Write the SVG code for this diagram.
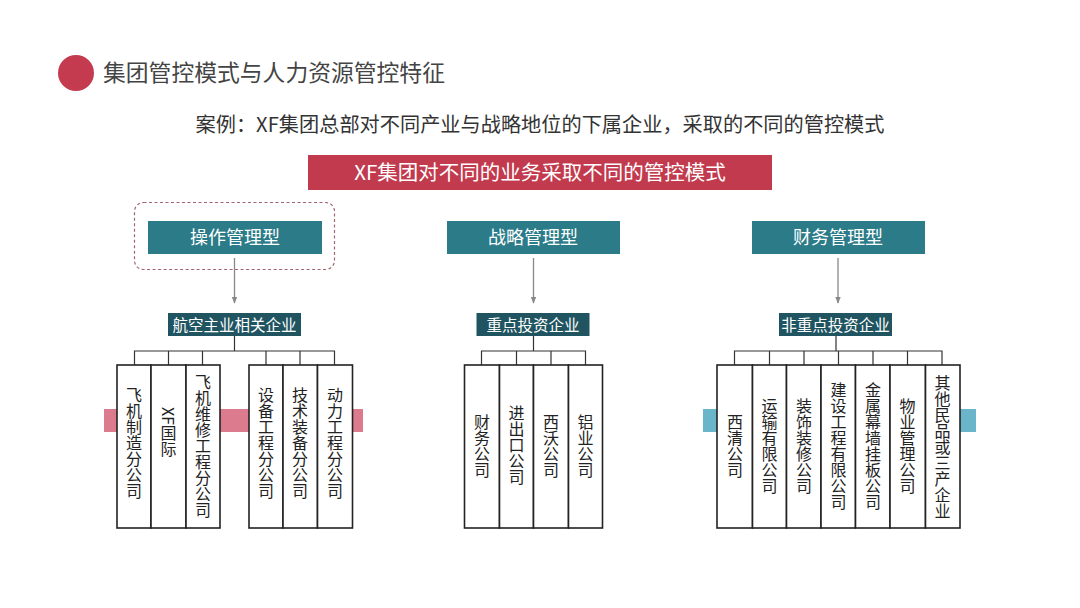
<svg xmlns="http://www.w3.org/2000/svg" width="1080" height="608" viewBox="0 0 1080 608">
<style>
text{font-family:"Noto Sans CJK SC","Noto Sans",sans-serif}
.teal{fill:#2b7b89}
.dark{fill:#1f5460}
.wt{fill:#fff;text-anchor:middle}
.col{fill:#fff;stroke:#222;stroke-width:1.6}
.br{fill:none;stroke:#333;stroke-width:1.2}
.vt{writing-mode:vertical-rl;text-anchor:middle;font-size:16px;fill:#222}
.arr{stroke:#888;stroke-width:1.3;fill:none;marker-end:url(#ah)}
</style>
<defs>
<marker id="ah" viewBox="0 0 10 10" refX="9" refY="5" markerWidth="7" markerHeight="7" orient="auto" markerUnits="userSpaceOnUse"><path d="M0,1 L10,5 L0,9 Z" fill="#888"/></marker>
</defs>
<rect width="1080" height="608" fill="#fff"/>
<g id="title">
<circle cx="76" cy="73" r="18" fill="#c43a4f"/>
<text x="103" y="81" font-size="22.8" fill="#444">集团管控模式与人力资源管控特征</text>
</g>
<g id="subtitle"><text x="540" y="132" font-size="20.2" fill="#333" text-anchor="middle">案例：XF集团总部对不同产业与战略地位的下属企业，采取的不同的管控模式</text></g>
<g id="banner">
<rect x="308" y="155" width="464" height="35" fill="#c23a4e"/>
<text x="540" y="180" font-size="20.5" class="wt">XF集团对不同的业务采取不同的管控模式</text>
</g>
<g id="type1">
<rect x="134.5" y="202.5" width="200" height="67" rx="9" fill="none" stroke="#a06670" stroke-width="1.2" stroke-dasharray="3,2.5"/>
<rect x="148" y="221" width="174" height="33" class="teal"/>
<text x="235" y="244" font-size="18" class="wt">操作管理型</text>
</g>
<g id="type2">
<rect x="447" y="221" width="173" height="33" class="teal"/>
<text x="533" y="244" font-size="18" class="wt">战略管理型</text>
</g>
<g id="type3">
<rect x="752" y="221" width="173" height="33" class="teal"/>
<text x="838" y="244" font-size="18" class="wt">财务管理型</text>
</g>
<g id="connectors">
<path class="arr" d="M234.5,258 V303"/>
<path class="arr" d="M533.5,258 V303"/>
<path class="arr" d="M838,258 V303"/>
<path class="br" d="M234.5,336 V351 M134.5,365 V351 H334.5 V365 M168.5,351 V365 M202.5,351 V365 M266,351 V365 M300,351 V365"/>
<path class="br" d="M533.5,336 V351 M481.5,365 V351 H585.5 V365 M516.5,351 V365 M551,351 V365"/>
<path class="br" d="M836,336 V351 M734.5,365 V351 H942 V365 M769.5,351 V365 M804,351 V365 M838.5,351 V365 M873,351 V365 M907.5,351 V365"/>
</g>
<g id="label1">
<rect x="168" y="313" width="133" height="23" class="dark"/>
<text x="234.5" y="330.5" font-size="15.5" class="wt">航空主业相关企业</text>
</g>
<g id="label2">
<rect x="476.5" y="313" width="113" height="23" class="dark"/>
<text x="533" y="330.5" font-size="15.5" class="wt">重点投资企业</text>
</g>
<g id="label3">
<rect x="779" y="313" width="113" height="23" class="dark"/>
<text x="835.5" y="330.5" font-size="15.5" class="wt">非重点投资企业</text>
</g>
<g id="bars">
<rect x="104" y="409" width="259" height="23" fill="#dc7b8e"/>
<rect x="703" y="409" width="273" height="23" fill="#6ab5c9"/>
</g>
<g id="group1">
<rect x="117" y="365" width="34" height="163" class="col"/>
<rect x="151" y="365" width="35" height="163" class="col"/>
<rect x="186" y="365" width="34" height="163" class="col"/>
<rect x="249" y="365" width="34" height="163" class="col"/>
<rect x="283" y="365" width="34.5" height="163" class="col"/>
<rect x="317.5" y="365" width="35" height="163" class="col"/>
<text class="vt" x="134" y="443">飞机制造分公司</text>
<text class="vt" x="168.5" y="432">XF国际</text>
<text class="vt" x="203" y="446">飞机维修工程分公司</text>
<text class="vt" x="266" y="443">设备工程分公司</text>
<text class="vt" x="300" y="443">技术装备分公司</text>
<text class="vt" x="335" y="443">动力工程分公司</text>
</g>
<g id="group2">
<rect x="464.5" y="365" width="35" height="163" class="col"/>
<rect x="499.5" y="365" width="34" height="163" class="col"/>
<rect x="533.5" y="365" width="35" height="163" class="col"/>
<rect x="568.5" y="365" width="34" height="163" class="col"/>
<text class="vt" x="482" y="446">财务公司</text>
<text class="vt" x="516.5" y="445">进出口公司</text>
<text class="vt" x="551" y="446">西沃公司</text>
<text class="vt" x="585.5" y="446">铝业公司</text>
</g>
<g id="group3">
<rect x="717" y="365" width="35.5" height="163" class="col"/>
<rect x="752.5" y="365" width="34" height="163" class="col"/>
<rect x="786.5" y="365" width="34.5" height="163" class="col"/>
<rect x="821" y="365" width="34.5" height="163" class="col"/>
<rect x="855.5" y="365" width="34.5" height="163" class="col"/>
<rect x="890" y="365" width="35.5" height="163" class="col"/>
<rect x="925.5" y="365" width="34.5" height="163" class="col"/>
<text class="vt" x="735" y="446">西清公司</text>
<text class="vt" x="769.5" y="446">运输有限公司</text>
<text class="vt" x="804" y="446">装饰装修公司</text>
<text class="vt" x="838.5" y="446">建设工程有限公司</text>
<text class="vt" x="873" y="446">金属幕墙挂板公司</text>
<text class="vt" x="907.5" y="446">物业管理公司</text>
<text class="vt" x="942.5" y="447">其他民品或三产企业</text>
</g>
</svg>
